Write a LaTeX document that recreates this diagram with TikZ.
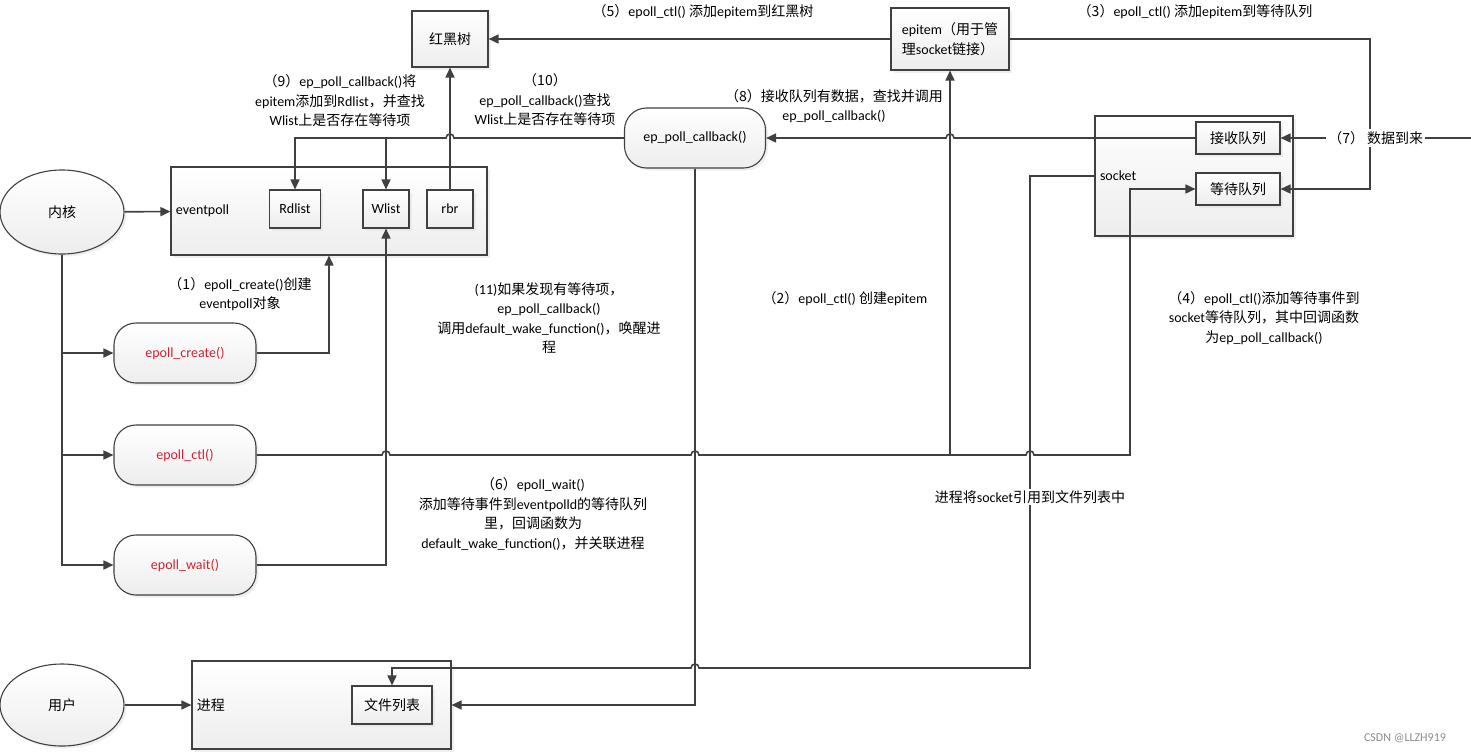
\documentclass[tikz,border=0pt]{standalone}
\usepackage{fontspec}
\setmainfont{Carlito}
\newfontfamily\cjk{Noto Sans CJK SC}
\newcommand{\zh}[1]{{\cjk #1}}
\usetikzlibrary{arrows.meta,shapes.geometric,shadows}
\definecolor{linegray}{RGB}{64,64,64}
\definecolor{fnred}{RGB}{222,30,45}
\tikzset{
  box/.style={draw=linegray, line width=1.1pt, top color=white, bottom color=black!7, drop shadow={shadow xshift=2.5pt, shadow yshift=-2.5pt, fill=black!12}, inner sep=2pt},
  fnbox/.style={box, rounded corners=22pt, minimum width=142pt, minimum height=60pt, text=fnred},
  oval/.style={box, ellipse, minimum width=124pt, minimum height=84pt},
  conn/.style={draw=linegray, line width=1.6pt},
  arr/.style={conn, -{Triangle[length=10pt,width=9pt]}},
  lbl/.style={align=center, inner sep=1pt},
  boxname/.style={anchor=west, xshift=2pt},
}
\begin{document}
\begin{tikzpicture}[x=1pt, y=-1pt, font=\fontsize{14}{19.5}\selectfont]
\useasboundingbox (0,0) rectangle (1471,753);
% containers
\node[box, minimum width=316pt, minimum height=88pt, label={[boxname]west:eventpoll}] (evp) at (329,211) {};
\node[box, minimum width=198pt, minimum height=120pt, label={[boxname]west:socket}] (sock) at (1194,176) {};
\node[box, minimum width=259pt, minimum height=88pt, label={[boxname]west:\zh{进程}}] (proc) at (321.5,705) {};
% boxes
\node[box, minimum width=51pt, minimum height=38pt] (rdl) at (295,209) {Rdlist};
\node[box, minimum width=46pt, minimum height=38pt] (wl) at (386,209) {Wlist};
\node[box, minimum width=46pt, minimum height=38pt] (rbr) at (450,209) {rbr};
\node[box, minimum width=76pt, minimum height=56pt] (rbt) at (450,39) {\zh{红黑树}};
\node[box, minimum width=118pt, minimum height=62pt, align=left] (epi) at (950,39) {epitem\zh{（用于管}\\\zh{理}socket\zh{链接）}};
\node[box, rounded corners=22pt, minimum width=141pt, minimum height=60pt] (cb) at (695,138) {ep\_poll\_callback()};
\node[box, minimum width=84pt, minimum height=32pt] (rq) at (1238,138) {\zh{接收队列}};
\node[box, minimum width=84pt, minimum height=32pt] (wq) at (1238,189) {\zh{等待队列}};
\node[box, minimum width=80pt, minimum height=38pt] (flist) at (392,705) {\zh{文件列表}};
\node[oval] (kernel) at (62,212) {\zh{内核}};
\node[oval, minimum height=82pt] (user) at (62,705) {\zh{用户}};
\node[fnbox] (create) at (185,353) {epoll\_create()};
\node[fnbox] (ctl) at (185,455) {epoll\_ctl()};
\node[fnbox] (wait) at (185,565) {epoll\_wait()};
% connectors
\draw[arr] (kernel) -- (evp);
\draw[arr] (kernel.south) |- (create);
\draw[arr] (kernel.south) |- (ctl);
\draw[arr] (kernel.south) |- (wait);
\draw[arr] (create) -| (evp.south);
\draw[arr] (wait) -| (wl.south);
\draw[arr] (ctl.east) -- (382,455) .. controls (382,449.7) and (390,449.7) .. (390,455) -- (691,455) .. controls (691,449.7) and (699,449.7) .. (699,455) -- (1026,455) .. controls (1026,449.7) and (1034,449.7) .. (1034,455) -- (1130,455) |- (wq.west);
\coordinate (ctlj) at (ctl.east -| epi.south);
\draw[arr] (ctlj) -- (epi.south);
\draw[arr] (epi) -- (rbt);
\draw[arr] (epi.east) -- (1370,39) |- (wq.east);
\draw[arr] (rq.west) -- (954,138) .. controls (954,132.7) and (946,132.7) .. (946,138) -- (cb.east);
\draw[arr] (cb.west) -- (454,138) .. controls (454,132.7) and (446,132.7) .. (446,138) -| (rdl.north);
\coordinate (cbj) at (wl.north |- cb.west);
\draw[arr] (cbj) -- (wl.north);
\draw[arr] (rbr) -- (rbt);
\coordinate (datain) at (1471,138);
\draw[arr] (datain) -- node[fill=white, inner sep=2pt] (l7) {\zh{（7） 数据到来}} (rq.east);
\draw[arr] (sock.west) -- (1030,176) -- (1030,668) -- (699,668) .. controls (699,662.7) and (691,662.7) .. (691,668) -| (flist.north);
\node[lbl, fill=white] (lref) at (1030,497) {\zh{进程将}socket\zh{引用到文件列表中}};
\draw[arr] (cb.south) |- (proc.east);
\draw[arr] (user) -- (proc);
% labels
\node[lbl] (l5) at (703,12) {\zh{（5）}epoll\_ctl() \zh{添加}epitem\zh{到红黑树}};
\node[lbl] (l3) at (1195,12) {\zh{（3）}epoll\_ctl() \zh{添加}epitem\zh{到等待队列}};
\node[lbl] (l9) at (340,101) {\zh{（9）}ep\_poll\_callback()\zh{将}\\epitem\zh{添加到}Rdlist\zh{，并查找}\\Wlist\zh{上是否存在等待项}};
\node[lbl] (l10) at (545,100) {\zh{（10）}\\ep\_poll\_callback()\zh{查找}\\Wlist\zh{上是否存在等待项}};
\node[lbl] (l8) at (834,106) {\zh{（8）接收队列有数据，查找并调用}\\ep\_poll\_callback()};
\node[lbl] (l1) at (240,294) {\zh{（1）}epoll\_create()\zh{创建}\\eventpoll\zh{对象}};
\node[lbl] (l11) at (549,318) {(11)\zh{如果发现有等待项，}\\ep\_poll\_callback()\\\zh{调用}default\_wake\_function()\zh{，唤醒进}\\\zh{程}};
\node[lbl] (l2) at (845,299) {\zh{（2）}epoll\_ctl() \zh{创建}epitem};
\node[lbl] (l4) at (1264,318) {\zh{（4）}epoll\_ctl()\zh{添加等待事件到}\\socket\zh{等待队列，其中回调函数}\\\zh{为}ep\_poll\_callback()};
\node[lbl] (l6) at (533,514) {\zh{（6）}epoll\_wait()\\\zh{添加等待事件到}eventpolld\zh{的等待队列}\\\zh{里，回调函数为}\\default\_wake\_function()\zh{，并关联进程}};
\node[text=black!45, font=\fontsize{12}{14}\selectfont] (mark) at (1405,738) {CSDN @LLZH919};
\end{tikzpicture}
\end{document}
